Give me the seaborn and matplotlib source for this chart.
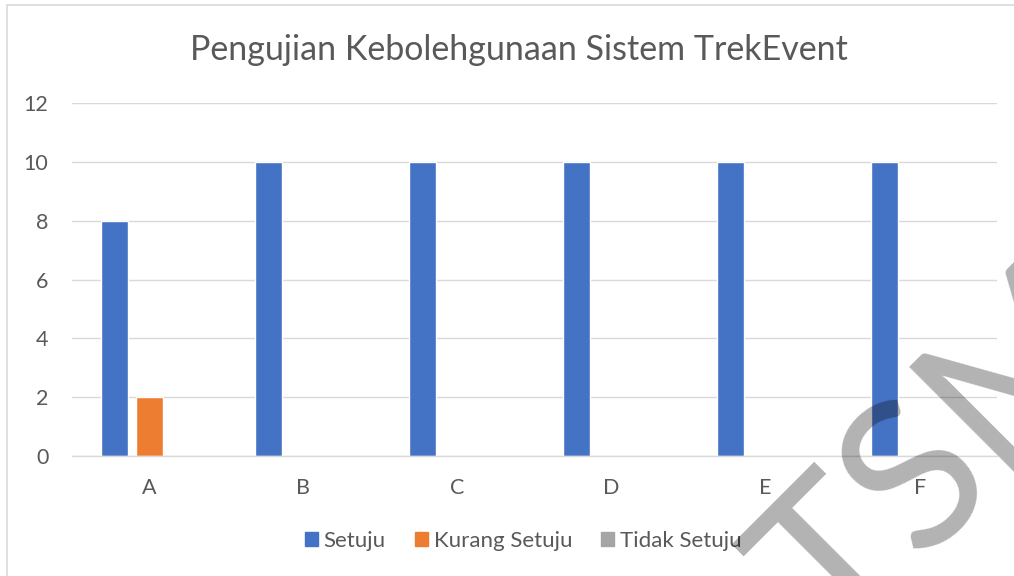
import numpy as np
import pandas as pd
import seaborn as sns
import matplotlib.pyplot as plt
from matplotlib.patches import Rectangle

# data
categories = ['A', 'B', 'C', 'D', 'E', 'F']
setuju = [8, 10, 10, 10, 10, 10]
kurang_setuju = [2, 0, 0, 0, 0, 0]
tidak_setuju = [0, 0, 0, 0, 0, 0]
series = ['Setuju', 'Kurang Setuju', 'Tidak Setuju']
colors = ['#4472C4', '#ED7D31', '#A5A5A5']
title = 'Pengujian Kebolehgunaan Sistem TrekEvent'

df = pd.DataFrame({
    'kategori': categories * 3,
    'jawapan': [s for s in series for _ in categories],
    'nilai': setuju + kurang_setuju + tidak_setuju,
})

sns.set_theme(style='white')
plt.rcParams['font.family'] = ['Lato', 'DejaVu Sans']
text_col = '#595959'
grid_col = '#D9D9D9'

fig = plt.figure(figsize=(10.14, 5.76), dpi=100)
ax = fig.add_axes([0.071, 0.2083, 0.912, 0.6129])

sns.barplot(data=df, x='kategori', y='nilai', hue='jawapan', hue_order=series,
            palette=colors, width=0.682, gap=0.23, saturation=1, ax=ax, legend=False)

ax.set_ylim(0, 12)
ax.set_yticks(np.arange(0, 13, 2))
ax.set_xlim(-0.5, 5.5)
ax.yaxis.grid(True, color=grid_col, linewidth=1)
ax.set_axisbelow(True)
for side in ['top', 'right', 'left']:
    ax.spines[side].set_visible(False)
ax.spines['bottom'].set_color(grid_col)
ax.spines['bottom'].set_linewidth(1)
ax.tick_params(axis='y', length=0, pad=17, labelsize=15.5, labelcolor=text_col)
ax.tick_params(axis='x', length=0, pad=16, labelsize=15.5, labelcolor=text_col)
ax.set_xlabel('')
ax.set_ylabel('')

fig.text(0.512, 1 - 50 / 576, title, ha='center', va='center', fontsize=24.5, color=text_col)

handles = [Rectangle((0, 0), 1, 1, color=c) for c in colors]
fig.legend(handles, series, loc='center', bbox_to_anchor=(0.516, 1 - 541 / 576), ncol=3,
           frameon=False, fontsize=16, labelcolor=text_col, handlelength=0.6,
           handleheight=0.6, handletextpad=0.25, columnspacing=1.3)

# chart border
fig.patches.append(Rectangle((7 / 1014, -0.1), 1.2, (576 - 5) / 576 + 0.1,
                             transform=fig.transFigure, fill=False,
                             edgecolor='#D9D9D9', linewidth=1.2))

# watermark
fig.text(986 / 1014, 1 - 498 / 576, 'TSM', rotation=45, rotation_mode='anchor',
         ha='center', va='baseline', fontsize=150, color='black', alpha=0.3,
         family=['Liberation Sans Narrow', 'Lato'], zorder=10)

fig.savefig('out.png', dpi=100)
